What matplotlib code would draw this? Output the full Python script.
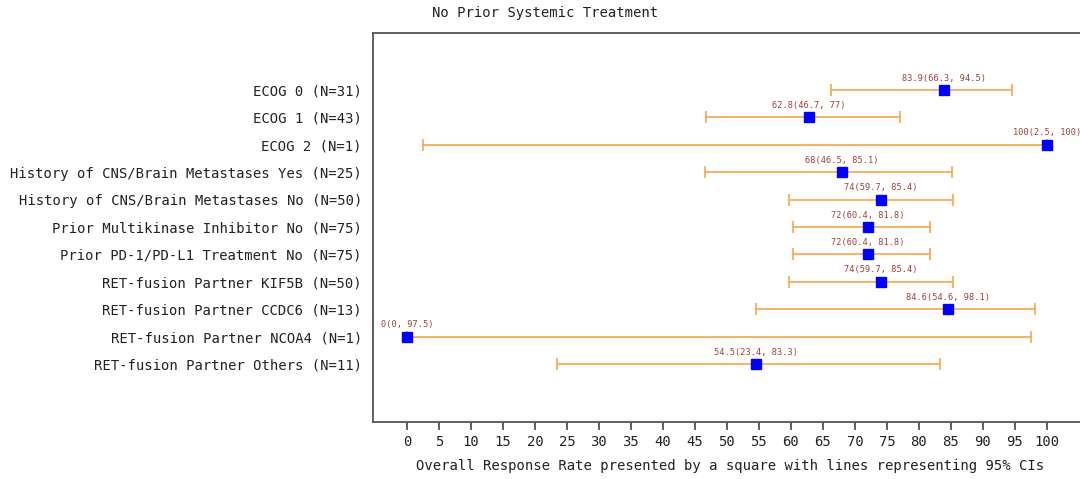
import matplotlib
matplotlib.use("Agg")
import matplotlib.pyplot as plt

labels = [
    "ECOG 0 (N=31)",
    "ECOG 1 (N=43)",
    "ECOG 2 (N=1)",
    "History of CNS/Brain Metastases Yes (N=25)",
    "History of CNS/Brain Metastases No (N=50)",
    "Prior Multikinase Inhibitor No (N=75)",
    "Prior PD-1/PD-L1 Treatment No (N=75)",
    "RET-fusion Partner KIF5B (N=50)",
    "RET-fusion Partner CCDC6 (N=13)",
    "RET-fusion Partner NCOA4 (N=1)",
    "RET-fusion Partner Others (N=11)",
]
orr = [83.9, 62.8, 100, 68, 74, 72, 72, 74, 84.6, 0, 54.5]
lower = [66.3, 46.7, 2.5, 46.5, 59.7, 60.4, 60.4, 59.7, 54.6, 0, 23.4]
upper = [94.5, 77, 100, 85.1, 85.4, 81.8, 81.8, 85.4, 98.1, 97.5, 83.3]
xticks = list(range(0, 101, 5))

FONT = 'DejaVu Sans Mono'

def fmt(v):
    return ("%g" % v)

W, H = 1080, 479
fig = plt.figure(figsize=(W / 100, H / 100), dpi=100)
left_px, top_px, bottom_px = 373, 33, 422
xmin, xmax = -5.3, 107.0
px_per_unit = (1047 - 407) / 100.0
right_px = left_px + (xmax - xmin) * px_per_unit
ax = fig.add_axes([left_px / W, 1 - bottom_px / H, (right_px - left_px) / W, (bottom_px - top_px) / H])

ypos = list(range(1, len(labels) + 1))
err_lo = [o - l for o, l in zip(orr, lower)]
err_hi = [u - o for o, u in zip(orr, upper)]
ax.errorbar(orr, ypos, xerr=[err_lo, err_hi], fmt='none', ecolor='#F9A54A',
            elinewidth=1.2, capsize=4.5, capthick=1.2, zorder=2)
ax.plot(orr, ypos, 's', color='#0000FF', markersize=7.5, zorder=3, linestyle='none')
for o, l, u, y in zip(orr, lower, upper, ypos):
    ax.annotate(f"{fmt(o)}({fmt(l)}, {fmt(u)})", (o, y), xytext=(0, 8.5),
                textcoords='offset points', ha='center', va='center',
                fontsize=6.2, color='#A0403A', family=FONT)

ax.set_xlim(xmin, xmax)
ax.set_ylim(len(labels) + 2.12, 1 - 2.08)
ax.set_yticks(ypos)
ax.set_yticklabels(labels, fontsize=10, color='#222222', family=FONT)
ax.tick_params(axis='y', length=0, pad=8)
ax.set_xticks(xticks)
ax.set_xticklabels([str(t) for t in xticks], fontsize=10, color='#222222', family=FONT)
ax.tick_params(axis='x', length=6, width=1.2, color='#444444', pad=3.5, direction='out')
for s in ax.spines.values():
    s.set_color('#555555')
    s.set_linewidth(1.3)
ax.set_xlabel("Overall Response Rate presented by a square with lines representing 95% CIs",
              fontsize=10, color='#222222', family=FONT)
ax.xaxis.set_label_coords((730 - left_px) / (right_px - left_px), -(466 - bottom_px) / (bottom_px - top_px))
ax.xaxis.label.set_va('center')
fig.text(432 / W, 1 - 13 / H, "No Prior Systemic Treatment", ha='left', va='center',
         fontsize=10, color='#222222', family=FONT)

fig.savefig("out.png", dpi=100)
